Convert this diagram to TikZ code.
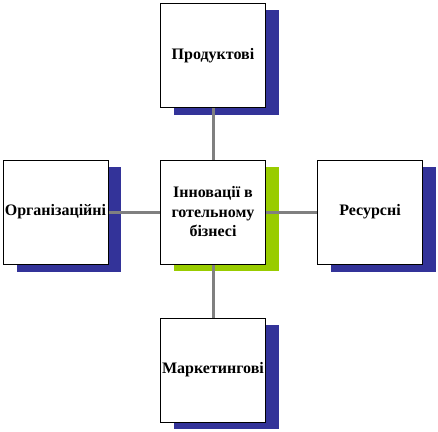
\documentclass[tikz,border=0pt]{standalone}
\usepackage{fontspec}
\setmainfont{Liberation Serif}
\begin{document}
\begin{tikzpicture}[x=1pt,y=-1pt,
  box/.style={draw=black,line width=1pt,fill=white,minimum width=105pt,minimum height=104pt,inner sep=0pt,align=center,font=\bfseries\fontsize{16}{19.5}\selectfont},
  link/.style={draw=lgray,line width=3pt}]
\definecolor{sblue}{HTML}{333399}
\definecolor{sgreen}{HTML}{99CC00}
\definecolor{lgray}{HTML}{808080}
\useasboundingbox (0,0) rectangle (438,431);
% shadows
\fill[sblue] (174,10) rectangle (279,115);
\fill[sgreen] (174,167) rectangle (279,271);
\fill[sblue] (17,167) rectangle (121,272);
\fill[sblue] (331,167) rectangle (436,272);
\fill[sblue] (174,325) rectangle (279,429);
% connector anchors
\coordinate (c) at (213,212);
\coordinate (t) at (213,55);
\coordinate (l) at (55.5,212);
\coordinate (r) at (370,212);
\coordinate (b) at (213,370);
\draw[link] (c) -- (t);
\draw[link] (c) -- (l);
\draw[link] (c) -- (r);
\draw[link] (c) -- (b);
% boxes
\node[box] (top) at (213,55.5) {Продуктові};
\node[box] (center) at (213,212) {Інновації в\\готельному\\бізнесі};
\node[box] (left) at (55.5,212) {Організаційні};
\node[box] (right) at (370,212) {Ресурсні};
\node[box] (bottom) at (213,370) {Маркетингові};
\end{tikzpicture}
\end{document}
